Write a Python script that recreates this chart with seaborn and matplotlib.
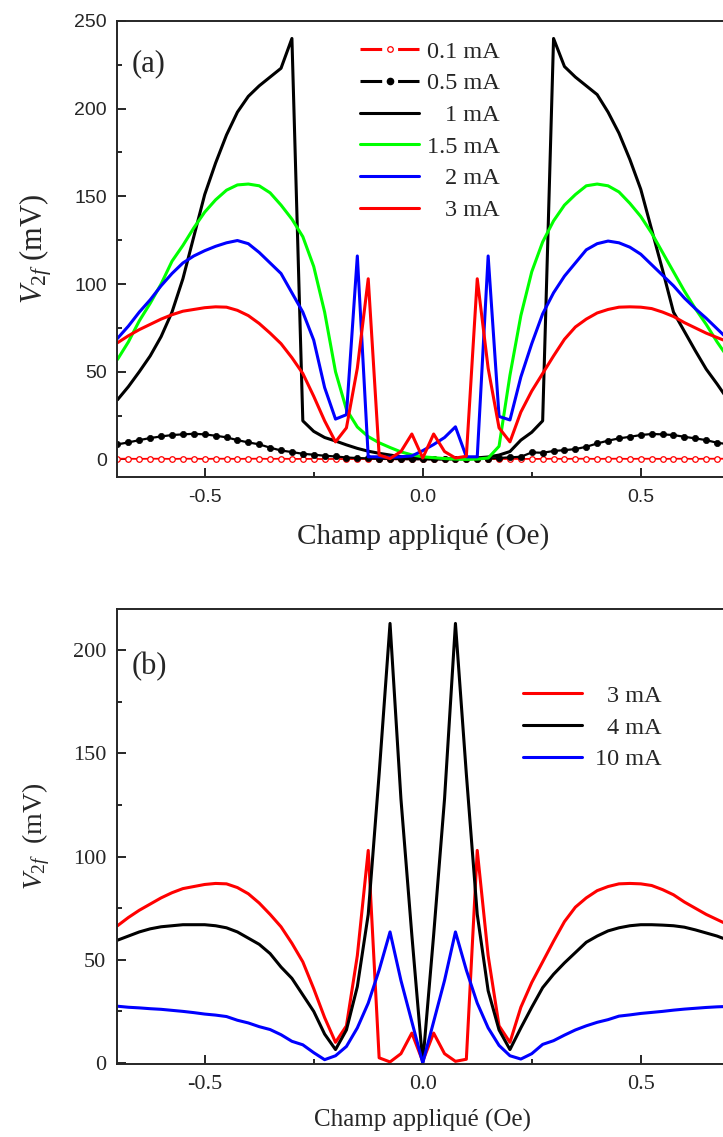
import numpy as np
import matplotlib
matplotlib.use("Agg")
import matplotlib.pyplot as plt
import seaborn as sns
from matplotlib.lines import Line2D
from matplotlib.ticker import MultipleLocator, FormatStrFormatter

# champ appliqué (Oe), pas de 0.025
field = [-0.700, -0.675, -0.650, -0.625, -0.600, -0.575, -0.550, -0.525,
         -0.500, -0.475, -0.450, -0.425, -0.400, -0.375, -0.350, -0.325,
         -0.300, -0.275, -0.250, -0.225, -0.200, -0.175, -0.150, -0.125,
         -0.100, -0.075, -0.050, -0.025, 0.000, 0.025, 0.050, 0.075,
         0.100, 0.125, 0.150, 0.175, 0.200, 0.225, 0.250, 0.275,
         0.300, 0.325, 0.350, 0.375, 0.400, 0.425, 0.450, 0.475,
         0.500, 0.525, 0.550, 0.575, 0.600, 0.625, 0.650, 0.675,
         0.700]

# V2f (mV) pour chaque courant
v_01mA = [0.4, 0.4, 0.3, 0.4, 0.4, 0.3, 0.4, 0.4,
          0.3, 0.4, 0.4, 0.3, 0.4, 0.4, 0.3, 0.4,
          0.3, 0.3, 0.3, 0.2, 0.3, 0.2, 0.2, 0.2,
          0.2, 0.1, 0.1, 0.1, 0.1, 0.1, 0.1, 0.1,
          0.2, 0.2, 0.2, 0.2, 0.3, 0.3, 0.3, 0.3,
          0.4, 0.3, 0.4, 0.4, 0.3, 0.4, 0.4, 0.3,
          0.4, 0.4, 0.3, 0.4, 0.4, 0.3, 0.4, 0.4,
          0.4]
v_05mA = [8.6, 9.7, 11.0, 12.2, 13.1, 13.9, 14.3, 14.6,
          14.3, 13.5, 12.6, 11.0, 9.7, 8.6, 6.7, 5.1,
          4.2, 3.2, 2.7, 2.1, 1.7, 1.1, 0.8, 0.6,
          0.4, 0.3, 0.2, 0.1, 0.1, 0.1, 0.1, 0.2,
          0.2, 0.3, 0.5, 0.8, 1.2, 1.5, 4.0, 3.8,
          4.8, 5.3, 5.9, 7.2, 9.1, 10.7, 12.0, 12.9,
          13.9, 14.5, 14.3, 13.9, 12.9, 12.0, 11.0, 9.5,
          8.7]
v_1mA = [34, 41.5, 50, 59, 70, 84, 103, 127,
         151, 169, 185, 198, 207, 213, 218, 223,
         240, 22, 16, 12.5, 10.5, 8.3, 6.3, 4.7,
         3.5, 2.5, 1.6, 0.9, 0.5, 0.3, 0.3, 0.4,
         0.6, 0.9, 1.4, 2.5, 4.5, 11, 15.5, 22,
         240, 224, 218, 213, 208, 198, 186, 171,
         154, 131, 108, 84, 73, 62, 51.5, 43,
         34]
v_15mA = [57, 67, 79, 89, 100, 113, 122, 132,
          141, 148, 153.5, 156.5, 157, 156, 152, 145,
          137, 127, 110, 84, 50, 28.5, 18.5, 13,
          9.5, 6.8, 4.3, 2.6, 1.5, 1.0, 0.5, 0.2,
          0, 0.2, 0.8, 7.5, 48, 82, 107, 124,
          136, 145, 151, 156, 157, 156, 152.5, 146,
          138.5, 129, 118, 107, 96, 86, 77, 67,
          58]
v_2mA = [69, 76, 84, 91, 99, 106, 112, 116,
         119, 121.5, 123.5, 124.8, 123, 118, 112, 106,
         95, 84, 68, 41, 23, 25.5, 116, 1.5,
         1.5, 1.2, 1.5, 2.0, 5.0, 8.5, 12.5, 18.6,
         1.5, 1.5, 116, 24.5, 22.5, 47, 66, 83,
         95, 104.5, 112, 119.5, 123, 124.5, 123.5, 121,
         117, 111, 105, 99, 92, 86, 80.5, 74.5,
         68.5]
v_3mA = [66.5, 70.5, 74, 77, 80, 82.5, 84.5, 85.5,
         86.5, 87, 86.8, 85, 82, 77.5, 72, 66,
         58, 49, 36, 22, 10, 18, 52, 103,
         2.5, 0.5, 4.5, 14.5, 0.8, 14.5, 4.5, 0.8,
         1.8, 103, 52, 18, 10, 27, 39, 49,
         59, 68.5, 75.5, 80, 83.5, 85.5, 86.8, 87,
         86.8, 86, 84, 81.5, 78, 75, 72, 69.5,
         67]
v_4mA = [59.5, 61.5, 63.5, 65, 66, 66.5, 67, 67,
         67, 66.5, 65.5, 63.5, 60.5, 57.5, 53, 46.5,
         41, 33, 25, 14, 6.5, 16, 37, 72,
         140, 213, 128, 62, 0, 62, 128, 213,
         140, 72, 35, 16, 6.5, 17, 27, 36.5,
         43, 48.5, 53.5, 58.5, 61.5, 64, 65.5, 66.5,
         67, 67, 66.8, 66.5, 65.8, 64.5, 63, 61.5,
         59.5]
v_10mA = [27.5, 27, 26.7, 26.3, 26, 25.5, 25, 24.4,
          23.7, 23.2, 22.5, 20.7, 19.4, 17.6, 16.2, 13.7,
          10.5, 8.8, 5, 1.6, 3.5, 8, 17, 29,
          45, 63.5, 40, 20, 0, 20, 40, 63.5,
          45, 29, 17, 8.5, 3.5, 1.9, 4.5, 9,
          10.8, 13.5, 16, 18, 19.7, 21, 22.7, 23.3,
          24, 24.5, 25, 25.6, 26.1, 26.5, 26.9, 27.2,
          27.4]

labels_a = ["0.1 mA", "0.5 mA", "1 mA", "1.5 mA", "2 mA", "3 mA"]
labels_b = ["3 mA", "4 mA", "10 mA"]

sns.set_style("ticks")
plt.rcParams["font.family"] = ["Liberation Serif", "DejaVu Serif"]
plt.rcParams["mathtext.fontset"] = "custom"
plt.rcParams["mathtext.rm"] = "Liberation Serif"
plt.rcParams["mathtext.it"] = "Liberation Serif:italic"
plt.rcParams["axes.unicode_minus"] = False

LW = 2.2
SERIF = "Liberation Serif"


def style_axes(ax, ymax, ymin, tick_family, tick_size):
    ax.set_xlim(-0.7, 0.7)
    ax.set_ylim(ymin, ymax)
    ax.xaxis.set_major_locator(MultipleLocator(0.5))
    ax.xaxis.set_minor_locator(MultipleLocator(0.25))
    ax.xaxis.set_major_formatter(FormatStrFormatter("%.1f"))
    ax.yaxis.set_major_locator(MultipleLocator(50))
    ax.yaxis.set_minor_locator(MultipleLocator(25))
    ax.tick_params(which="major", direction="in", length=6.5, width=1.4,
                   top=False, right=False, labelsize=tick_size,
                   labelfontfamily=tick_family)
    ax.tick_params(which="minor", direction="in", length=3.5, width=1.4,
                   top=False, right=False)
    for sp in ax.spines.values():
        sp.set_linewidth(1.4)
        sp.set_visible(True)


def right_align(fig, leg):
    # étiquettes de légende alignées à droite
    fig.canvas.draw()
    texts = leg.get_texts()
    widths = [t.get_window_extent().width for t in texts]
    wmax = max(widths)
    for t, w in zip(texts, widths):
        t.set_x(wmax - w)


fig = plt.figure(figsize=(7.23, 11.37), dpi=100)
fig.patch.set_facecolor("white")
ax_a = fig.add_axes([0.1625, 0.5805, 0.8444, 0.4011])
ax_b = fig.add_axes([0.1625, 0.0642, 0.8444, 0.4002])

# (a)
sns.lineplot(x=field, y=v_01mA, ax=ax_a, color="red", lw=1.3, marker="o",
             markersize=4, markerfacecolor="white", markeredgecolor="red",
             markeredgewidth=0.9, estimator=None, sort=False, legend=False)
sns.lineplot(x=field, y=v_05mA, ax=ax_a, color="black", lw=1.6, marker="o",
             markersize=4.5, markerfacecolor="black", markeredgecolor="black",
             markeredgewidth=0.5, estimator=None, sort=False, legend=False)
sns.lineplot(x=field, y=v_1mA, ax=ax_a, color="black", lw=LW,
             estimator=None, sort=False, legend=False)
sns.lineplot(x=field, y=v_15mA, ax=ax_a, color="#00ff00", lw=LW,
             estimator=None, sort=False, legend=False)
sns.lineplot(x=field, y=v_2mA, ax=ax_a, color="blue", lw=LW,
             estimator=None, sort=False, legend=False)
sns.lineplot(x=field, y=v_3mA, ax=ax_a, color="red", lw=LW,
             estimator=None, sort=False, legend=False)

style_axes(ax_a, 250, -10, "Liberation Sans", 14)
ax_a.tick_params(axis="x", pad=8.5)
ax_a.tick_params(axis="y", pad=7.5)
ax_a.set_xlabel("Champ appliqué (Oe)", fontsize=21, family=SERIF, labelpad=12)
ax_a.set_ylabel(r"$V_{\mathit{2f}}$ (mV)", fontsize=22, family=SERIF, labelpad=15)
ax_a.text(0.023, 0.906, "(a)", transform=ax_a.transAxes, fontsize=22,
          family=SERIF, ha="left", va="center")

handles_a = [
    Line2D([], [], color="red", lw=LW, ls=(0, (7.1, 5.2)), marker="o", ms=4,
           mfc="white", mec="red", mew=0.9),
    Line2D([], [], color="black", lw=LW, ls=(0, (7.1, 5.2)), marker="o", ms=4.5,
           mfc="black", mec="black"),
    Line2D([], [], color="black", lw=LW),
    Line2D([], [], color="#00ff00", lw=LW),
    Line2D([], [], color="blue", lw=LW),
    Line2D([], [], color="red", lw=LW),
]
leg_a = ax_a.legend(handles_a, labels_a, loc="upper left", bbox_to_anchor=(0.397, 0.957),
                    frameon=False, prop={"family": SERIF, "size": 17.5},
                    handlelength=2.45, handletextpad=0.3, labelspacing=0.40,
                    borderpad=0, borderaxespad=0)

# (b)
sns.lineplot(x=field, y=v_3mA, ax=ax_b, color="red", lw=LW,
             estimator=None, sort=False, legend=False)
sns.lineplot(x=field, y=v_4mA, ax=ax_b, color="black", lw=LW,
             estimator=None, sort=False, legend=False)
sns.lineplot(x=field, y=v_10mA, ax=ax_b, color="blue", lw=LW,
             estimator=None, sort=False, legend=False)

style_axes(ax_b, 220, -0.5, SERIF, 16)
ax_b.tick_params(axis="x", pad=8)
ax_b.tick_params(axis="y", pad=8)
ax_b.set_xlabel("Champ appliqué (Oe)", fontsize=18, family=SERIF, labelpad=11)
ax_b.set_ylabel(r"$V_{\mathit{2f}}$  (mV)", fontsize=20, family=SERIF, labelpad=15)
ax_b.text(0.023, 0.873, "(b)", transform=ax_b.transAxes, fontsize=22,
          family=SERIF, ha="left", va="center")

handles_b = [Line2D([], [], color=c, lw=LW) for c in ["red", "black", "blue"]]
leg_b = ax_b.legend(handles_b, labels_b, loc="upper left", bbox_to_anchor=(0.664, 0.834),
                    frameon=False, prop={"family": SERIF, "size": 17.5},
                    handlelength=2.45, handletextpad=0.5, labelspacing=0.41,
                    borderpad=0, borderaxespad=0)

right_align(fig, leg_a)
right_align(fig, leg_b)

fig.savefig("out.png", dpi=100, facecolor="white")
